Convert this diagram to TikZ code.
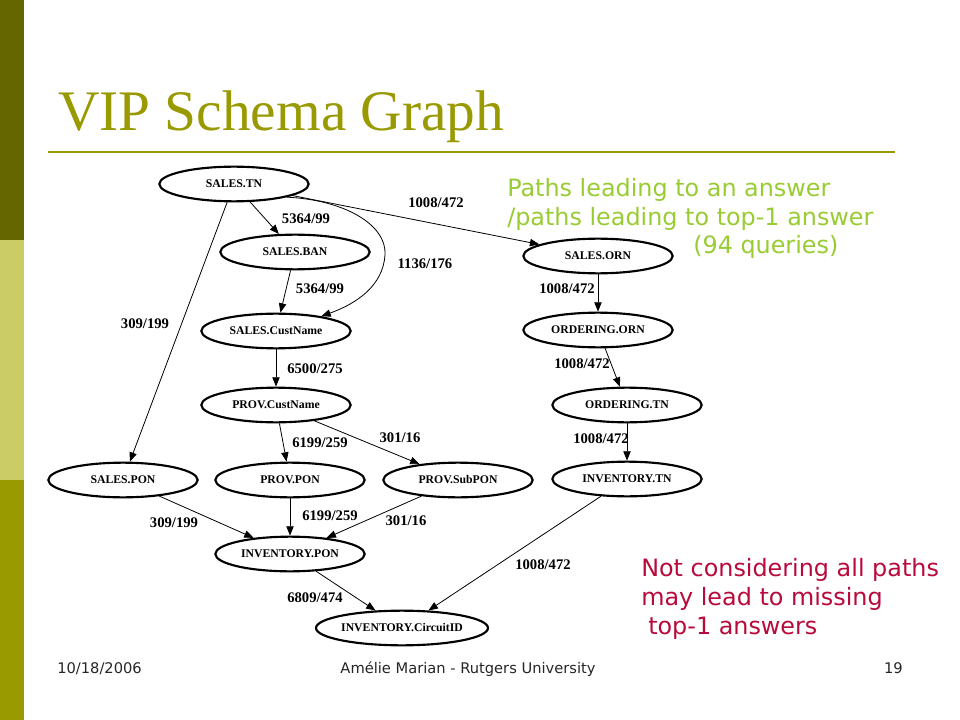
\documentclass[tikz,border=0pt]{standalone}
\usepackage{fontspec}
\setmainfont{Liberation Serif}
\newfontfamily\slidefont{DejaVu Sans}
\usetikzlibrary{shapes.geometric,arrows.meta}
\definecolor{barDark}{RGB}{102,102,0}
\definecolor{barLight}{RGB}{204,204,102}
\definecolor{barMid}{RGB}{153,153,0}
\definecolor{titleOlive}{RGB}{153,153,0}
\definecolor{noteGreen}{RGB}{153,204,51}
\definecolor{noteRed}{RGB}{185,10,60}
\begin{document}
\begin{tikzpicture}[x=0.75pt,y=-0.75pt]

\tikzset{attr/.style={draw, ellipse, line width=1.6pt, minimum width=112pt, minimum height=26pt, inner sep=0pt, font=\bfseries\fontsize{8.8}{9}\selectfont},
link/.style={line width=0.6pt, -{Triangle[length=7pt,width=5.5pt]}},
weight/.style={inner sep=0pt, font=\bfseries\fontsize{11}{11}\selectfont},
note/.style={anchor=base west, inner sep=0pt, font=\slidefont\fontsize{17.9}{20}\selectfont},
foot/.style={anchor=base, inner sep=0pt, text=black!85, font=\slidefont\fontsize{11}{12}\selectfont}}

\useasboundingbox (0,0) rectangle (960,720);
\fill[white] (0,0) rectangle (960,720);

\fill[barDark] (0,0) rectangle (24,240);
\fill[barLight] (0,240) rectangle (24,480);
\fill[barMid] (0,480) rectangle (24,720);

\node[anchor=base west, inner sep=0pt, text=titleOlive, font=\fontsize{43}{43}\selectfont] (title) at (58,131) {VIP Schema Graph};
\draw[titleOlive, line width=1.6pt] (48,152) -- (895,152);

\node[attr] (stn) at (234,184) {SALES.TN};
\node[attr] (sban) at (295,252) {SALES.BAN};
\node[attr] (scust) at (276,331) {SALES.CustName};
\node[attr] (pcust) at (276,405) {PROV.CustName};
\node[attr] (spon) at (123,480) {SALES.PON};
\node[attr] (ppon) at (290,480) {PROV.PON};
\node[attr] (psub) at (458,480) {PROV.SubPON};
\node[attr] (ipon) at (290,554) {INVENTORY.PON};
\node[attr, minimum width=120pt] (icirc) at (402,628) {INVENTORY.CircuitID};
\node[attr] (sorn) at (598,256) {SALES.ORN};
\node[attr] (oorn) at (598,330) {ORDERING.ORN};
\node[attr] (otn) at (627,405) {ORDERING.TN};
\node[attr] (itn) at (627,479) {INVENTORY.TN};

\draw[link] (stn) -- (sban);
\draw[link] (stn.-14) .. controls (345,200) and (387,225) .. (385,255) .. controls (383,285) and (358,303) .. (scust.18);
\draw[link] (stn) -- (sorn);
\draw[link] (stn) -- (spon);
\draw[link] (sban) -- (scust);
\draw[link] (scust) -- (pcust);
\draw[link] (pcust) -- (ppon);
\draw[link] (pcust) -- (psub);
\draw[link] (spon) -- (ipon);
\draw[link] (ppon) -- (ipon);
\draw[link] (psub) -- (ipon);
\draw[link] (ipon) -- (icirc);
\draw[link] (itn) -- (icirc);
\draw[link] (sorn) -- (oorn);
\draw[link] (oorn) -- (otn);
\draw[link] (otn) -- (itn);

\node[weight] (w-stn-sban) at (306,219) {5364/99};
\node[weight] (w-stn-scust) at (425,264) {1136/176};
\node[weight] (w-stn-sorn) at (436,203) {1008/472};
\node[weight] (w-stn-spon) at (145,324) {309/199};
\node[weight] (w-sban-scust) at (320,289) {5364/99};
\node[weight] (w-scust-pcust) at (315,369) {6500/275};
\node[weight] (w-pcust-ppon) at (320,443) {6199/259};
\node[weight] (w-pcust-psub) at (400,438) {301/16};
\node[weight] (w-spon-ipon) at (174,523) {309/199};
\node[weight] (w-ppon-ipon) at (330,516) {6199/259};
\node[weight] (w-psub-ipon) at (406,521) {301/16};
\node[weight] (w-ipon-icirc) at (315,598) {6809/474};
\node[weight] (w-itn-icirc) at (543,565) {1008/472};
\node[weight] (w-sorn-oorn) at (567,289) {1008/472};
\node[weight] (w-oorn-otn) at (582,364) {1008/472};
\node[weight] (w-otn-itn) at (601,439) {1008/472};

\node[note, text=noteGreen] (paths1) at (507,197) {Paths leading to an answer};
\node[note, text=noteGreen] (paths2) at (507,226) {/paths leading to top-1 answer};
\node[note, text=noteGreen] (paths3) at (693,254) {(94 queries)};

\node[note, text=noteRed] (warn1) at (641,576) {Not considering all paths};
\node[note, text=noteRed] (warn2) at (641,605) {may lead to missing};
\node[note, text=noteRed] (warn3) at (648,634) {top-1 answers};

\node[foot, anchor=base west] (date) at (57,673) {10/18/2006};
\node[foot] (author) at (468,673) {Amélie Marian - Rutgers University};
\node[foot, anchor=base east] (page) at (903,673) {19};

\end{tikzpicture}
\end{document}
